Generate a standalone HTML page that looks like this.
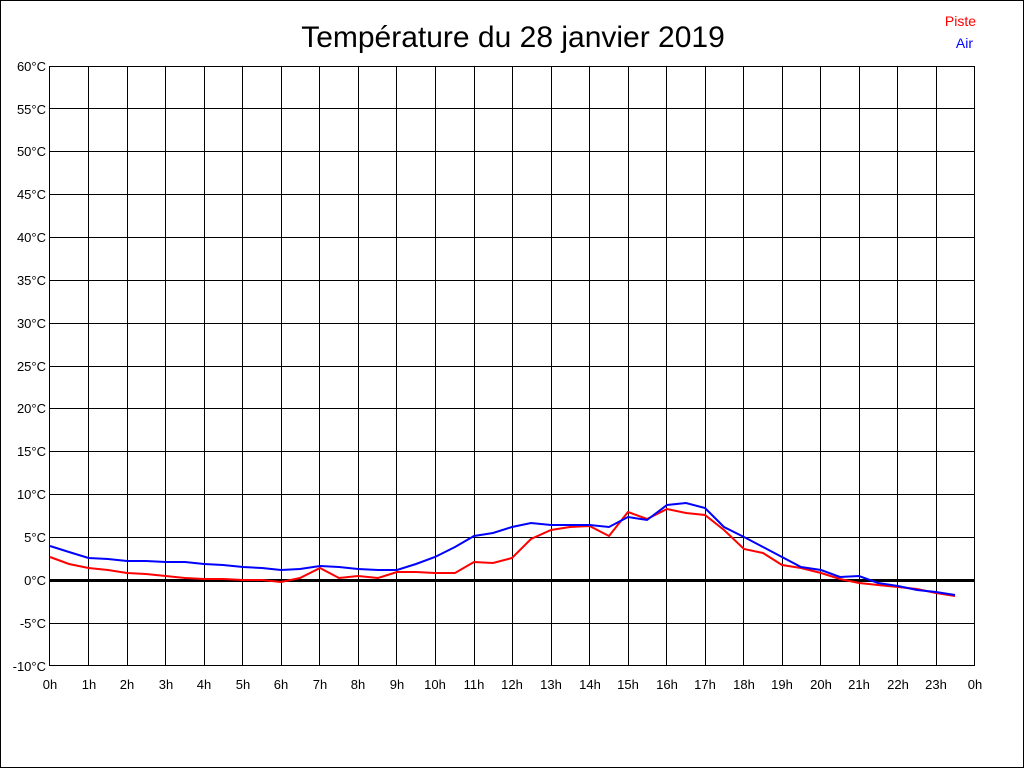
<!DOCTYPE html>
<html><head><meta charset="utf-8"><style>
html,body{margin:0;padding:0;background:#fff}
svg{display:block}
text{font-family:"Liberation Sans",sans-serif}
</style></head><body>
<svg width="1024" height="768" viewBox="0 0 1024 768" xmlns="http://www.w3.org/2000/svg">
<rect x="0.5" y="0.5" width="1023" height="767" fill="#fff" stroke="#000"/>
<text x="513" y="47" font-size="30" text-anchor="middle">Température du 28 janvier 2019</text>
<text x="976" y="26" font-size="14" fill="#f00" text-anchor="end">Piste</text>
<text x="973" y="48" font-size="14" fill="#00f" text-anchor="end">Air</text>
<g stroke="#000" stroke-width="1" shape-rendering="crispEdges">
<path d="M49.5 66V666M88.5 66V666M127.5 66V666M165.5 66V666M204.5 66V666M242.5 66V666M281.5 66V666M319.5 66V666M358.5 66V666M396.5 66V666M435.5 66V666M474.5 66V666M512.5 66V666M551.5 66V666M589.5 66V666M628.5 66V666M666.5 66V666M705.5 66V666M743.5 66V666M782.5 66V666M820.5 66V666M859.5 66V666M897.5 66V666M936.5 66V666M974.5 66V666"/>
<path d="M49 66.5H975M49 108.5H975M49 151.5H975M49 194.5H975M49 237.5H975M49 280.5H975M49 323.5H975M49 366.5H975M49 408.5H975M49 451.5H975M49 494.5H975M49 537.5H975M49 623.5H975M49 665.5H975"/>
</g>
<rect x="49" y="579" width="926" height="3" fill="#000"/>
<g font-size="13" text-anchor="end">
<text x="46" y="71">60°C</text><text x="46" y="114">55°C</text><text x="46" y="156">50°C</text><text x="46" y="199">45°C</text><text x="46" y="242">40°C</text><text x="46" y="285">35°C</text><text x="46" y="328">30°C</text><text x="46" y="371">25°C</text><text x="46" y="413">20°C</text><text x="46" y="456">15°C</text><text x="46" y="499">10°C</text><text x="46" y="542">5°C</text><text x="46" y="585">0°C</text><text x="46" y="628">-5°C</text><text x="46" y="671">-10°C</text>
</g>
<g font-size="13" text-anchor="middle">
<text x="50" y="689">0h</text><text x="89" y="689">1h</text><text x="127" y="689">2h</text><text x="166" y="689">3h</text><text x="204" y="689">4h</text><text x="243" y="689">5h</text><text x="281" y="689">6h</text><text x="320" y="689">7h</text><text x="358" y="689">8h</text><text x="397" y="689">9h</text><text x="435" y="689">10h</text><text x="474" y="689">11h</text><text x="512" y="689">12h</text><text x="551" y="689">13h</text><text x="590" y="689">14h</text><text x="628" y="689">15h</text><text x="667" y="689">16h</text><text x="705" y="689">17h</text><text x="744" y="689">18h</text><text x="782" y="689">19h</text><text x="821" y="689">20h</text><text x="859" y="689">21h</text><text x="898" y="689">22h</text><text x="936" y="689">23h</text><text x="975" y="689">0h</text>
</g>
<polyline fill="none" stroke="#f00" stroke-width="2" points="50,557 69,564 88.5,568 108,570 127,573 146,574 165.6,576 185,578 204,579 223,579 243,580 262,580 281,582 300,578 320,568 339,578 358,576 378,578 397,572 416,572 435,573 455,573 474,562 493,563 512,558 531,539 551,530 570,527 589.5,526 609,536 628,512 647,519 667,509 686,513 705,515 724,530 744,549 763,553 782,565 801,568 821,573 840,579 859,583 878,585 898,587 917,589 936,593 955,596"/>
<polyline fill="none" stroke="#00f" stroke-width="2" points="50,546 69,552 88.5,558 108,559 127,561 146,561 165.6,562 185,562 204,564 223,565 243,567 262,568 281,570 300,569 320,566 339,567 358,569 378,570 397,570 416,564 435,557 455,547 474,536 493,533 512,527 531,523 551,525 570,525 589.5,525 609,527 628,517 647,520 667,505 686,503 705,508 724,527 744,537 763,547 782,557 801,567 821,570 840,577 859,576 878,583 898,586 917,590 936,592 955,595"/>
</svg>
</body></html>
